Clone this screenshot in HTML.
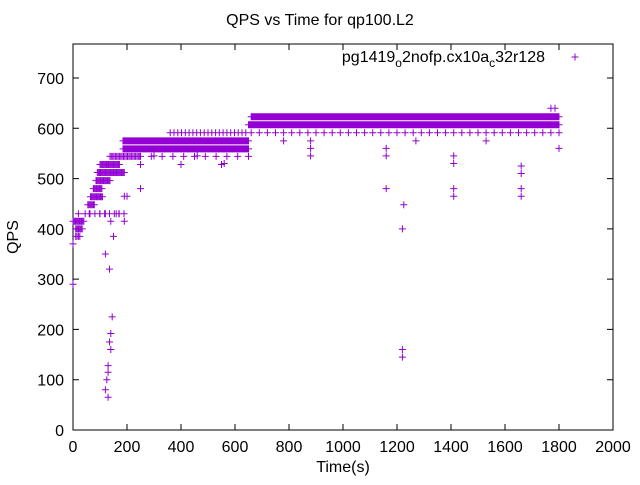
<!DOCTYPE html>
<html><head><meta charset="utf-8"><style>
body{margin:0;background:#fff}
svg text{font-family:"Liberation Sans",sans-serif;font-size:16px;fill:#000}
</style></head><body>
<svg id="c" width="640" height="480" xmlns="http://www.w3.org/2000/svg"></svg>
<script>
const xTicks=[0,200,400,600,800,1000,1200,1400,1600,1800,2000];
const yTicks=[0,100,200,300,400,500,600,700];
const bandStart=[0,10,10,0,55,65,75,85,90,100,137,185,185,360,250,650,660,660,250,45];
const bandEnd=[0,25,35,40,80,110,110,140,190,175,248,650,650,650,650,1800,1800,1800,650,200];
const bandLevel=[370,385,400,415,448,464,480,496,512,528,544,559,575,591,544,607,623,591,528,430];
const bandStep=[10,5,4,4,4,4,4,4,4,4,5,3,3,14,40,2,3,30,150,18];
const outT=[0,120,135,145,140,135,140,130,130,125,120,130,150,120,140,160,190,190,200,250,1160,1160,1160,1220,1225,1220,1220,1410,1410,1410,1410,1660,1660,1660,1660,1800,1770,1785,880,880,880,1270,1530,560,460,300,780,20,60,100,170];
const outQ=[290,350,320,225,192,175,160,128,115,100,80,65,385,430,415,430,415,465,465,480,480,545,560,400,448,160,145,545,530,480,465,465,480,510,525,560,640,640,545,560,575,575,575,530,545,545,575,430,430,430,430];
const svg=document.getElementById('c');
const NS='http://www.w3.org/2000/svg';
const L=73,R=613,T=44,B=430;
const X=v=>L+v*(R-L)/2000;
const Y=v=>B-v*(B-78)/700;
function mk(tag,attrs){const e=document.createElementNS(NS,tag);for(const k in attrs)e.setAttribute(k,attrs[k]);svg.appendChild(e);return e;}
let t=mk('text',{x:320,y:25,'text-anchor':'middle','font-size':'14'});t.textContent='QPS vs Time for qp100.L2';


let fr=mk('rect',{x:L,y:T,width:R-L,height:B-T,fill:'none',stroke:'#000','stroke-width':1});


xTicks.forEach(v=>{
 const l=mk('path',{d:`M${X(v)},${B}v-6M${X(v)},${T}v6`,stroke:'#000'});
 
 
 const s=mk('text',{x:X(v),y:B+22,'text-anchor':'middle'});s.textContent=v;
 
 
});
yTicks.forEach(v=>{
 const l=mk('path',{d:`M${L},${Y(v)}h6M${R},${Y(v)}h-6`,stroke:'#000'});
 
 
 const s=mk('text',{x:L-9,y:Y(v)+6,'text-anchor':'end'});s.textContent=v;
 
 
});
let xt=mk('text',{x:343,y:472,'text-anchor':'middle'});xt.textContent='Time(s)';


let yt=mk('text',{x:18,y:237,'text-anchor':'middle',transform:'rotate(-90 18 237)'});yt.textContent='QPS';


let d='';
const plus=(px,py)=>{d+=`M${(px-3.5).toFixed(1)},${py.toFixed(1)}h7M${px.toFixed(1)},${(py-3.5).toFixed(1)}v7`;};
for(let i=0;i<bandStart.length;i++){for(let s=bandStart[i];s<=bandEnd[i];s+=bandStep[i])plus(X(s),Y(bandLevel[i]));}
for(let i=0;i<outT.length;i++)plus(X(outT[i]),Y(outQ[i]));
let pts=mk('path',{d:d,stroke:'#9400d3','stroke-width':1,fill:'none'});


let lg=mk('text',{x:545,y:62,'text-anchor':'end'});
lg.innerHTML='pg1419<tspan dy="5" font-size="12">o</tspan><tspan dy="-5">2nofp.cx10a</tspan><tspan dy="5" font-size="12">c</tspan><tspan dy="-5">32r128</tspan>';


let lm=mk('path',{d:'M571.5,57h7M575,53.5v7',stroke:'#9400d3'});


</script>
</body></html>
